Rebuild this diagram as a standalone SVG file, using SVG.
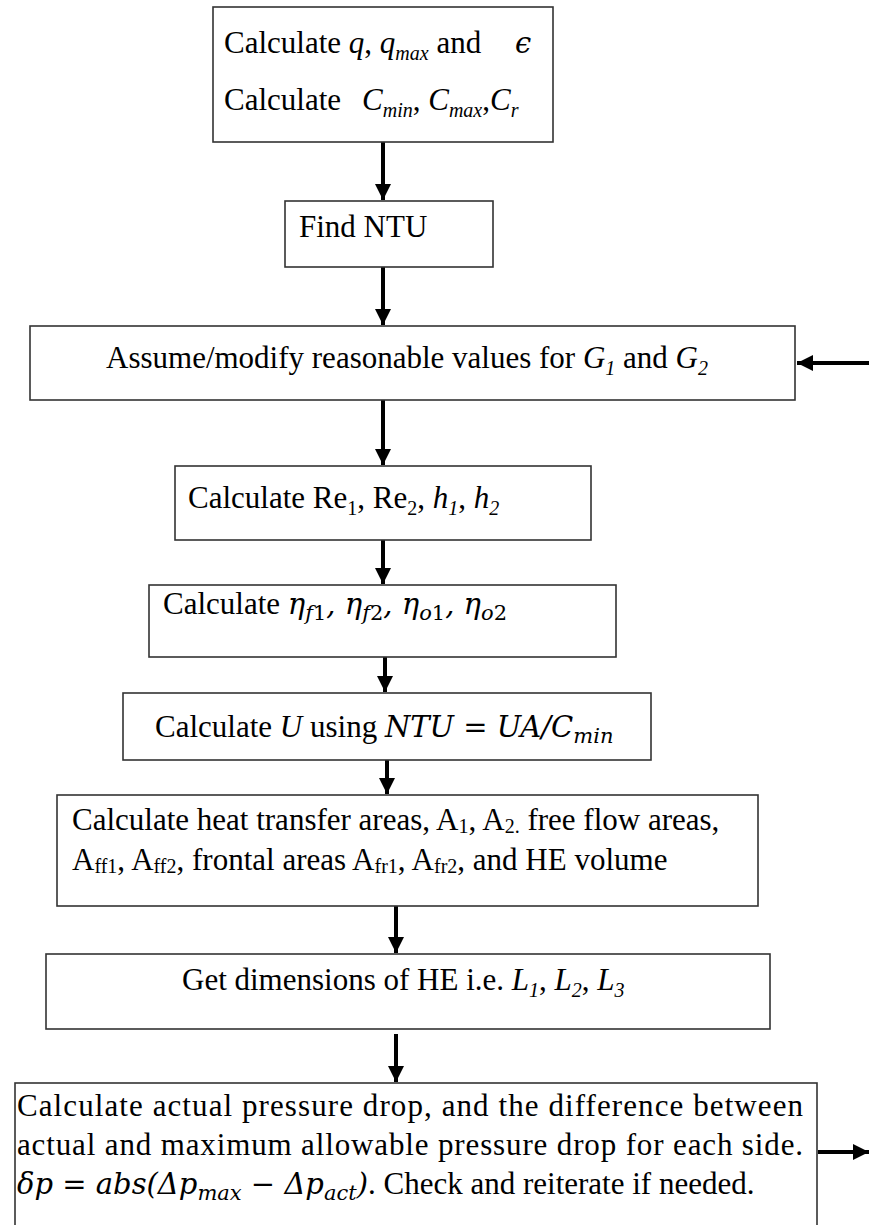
<svg xmlns="http://www.w3.org/2000/svg" width="869" height="1225" viewBox="0 0 869 1225">
<defs>
<style>
.box{fill:#fff;stroke:#333;stroke-width:1.6}
.t{font-family:"Liberation Serif","Times New Roman",serif;font-size:31px;fill:#000}
.i{font-style:italic}
.s{font-size:20px}
.m{font-family:"DejaVu Serif","Liberation Serif",serif;font-style:italic;font-size:29px}
.ms{font-family:"DejaVu Serif","Liberation Serif",serif;font-style:italic;font-size:21px}
.mu{font-family:"DejaVu Serif","Liberation Serif",serif;font-style:normal;font-size:21px}
.c{stroke:#000;stroke-width:4;fill:none}
</style>
<marker id="ah" viewBox="0 0 10 10" refX="10" refY="5" markerWidth="4" markerHeight="4" markerUnits="strokeWidth" orient="auto">
<path d="M0,0 L10,5 L0,10 z" fill="#000"/>
</marker>
</defs>

<g id="connectors">
<line class="c" x1="383" y1="142" x2="383" y2="200" marker-end="url(#ah)"/>
<line class="c" x1="383" y1="267" x2="383" y2="325" marker-end="url(#ah)"/>
<line class="c" x1="383" y1="400" x2="383" y2="465" marker-end="url(#ah)"/>
<line class="c" x1="383" y1="540" x2="383" y2="584" marker-end="url(#ah)"/>
<line class="c" x1="385" y1="657" x2="385" y2="692" marker-end="url(#ah)"/>
<line class="c" x1="387" y1="760" x2="387" y2="794" marker-end="url(#ah)"/>
<line class="c" x1="396" y1="906" x2="396" y2="953" marker-end="url(#ah)"/>
<line class="c" x1="396" y1="1034" x2="396" y2="1082" marker-end="url(#ah)"/>
<line class="c" x1="869" y1="363" x2="797" y2="363" marker-end="url(#ah)"/>
<line class="c" x1="818" y1="1152" x2="869" y2="1152" marker-end="url(#ah)"/>
</g>

<g id="n1">
<rect class="box" x="213" y="7" width="340" height="135"/>
<text class="t" x="224" y="53">Calculate <tspan class="i">q</tspan>, <tspan class="i">q</tspan><tspan class="i s" dy="7">max</tspan><tspan dy="-7"> and</tspan><tspan class="m" x="515">ϵ</tspan></text>
<text class="t" x="224" y="110">Calculate<tspan class="i" x="362">C</tspan><tspan class="i s" dy="7">min</tspan><tspan dy="-7">, </tspan><tspan class="i">C</tspan><tspan class="i s" dy="7">max</tspan><tspan dy="-7">,</tspan><tspan class="i">C</tspan><tspan class="i s" dy="7">r</tspan></text>
</g>

<g id="n2">
<rect class="box" x="285" y="201" width="208" height="66"/>
<text class="t" x="299" y="237">Find NTU</text>
</g>

<g id="n3">
<rect class="box" x="30" y="326" width="765" height="74"/>
<text class="t" x="106" y="368">Assume/modify reasonable values for <tspan class="i">G</tspan><tspan class="i s" dy="7">1</tspan><tspan dy="-7"> and </tspan><tspan class="i">G</tspan><tspan class="i s" dy="7">2</tspan></text>
</g>

<g id="n4">
<rect class="box" x="175" y="466" width="416" height="74"/>
<text class="t" x="188" y="508">Calculate Re<tspan class="s" dy="7">1</tspan><tspan dy="-7">, Re</tspan><tspan class="s" dy="7">2</tspan><tspan dy="-7">, </tspan><tspan class="i">h</tspan><tspan class="i s" dy="7">1</tspan><tspan dy="-7">, </tspan><tspan class="i">h</tspan><tspan class="i s" dy="7">2</tspan></text>
</g>

<g id="n5">
<rect class="box" x="149" y="585" width="467" height="72"/>
<text class="t" x="163" y="614">Calculate <tspan class="m">η</tspan><tspan class="ms" dy="6">f</tspan><tspan class="mu">1</tspan><tspan class="m" font-style="normal" dy="-6">, </tspan><tspan class="m">η</tspan><tspan class="ms" dy="6">f</tspan><tspan class="mu">2</tspan><tspan class="m" font-style="normal" dy="-6">,   </tspan><tspan class="m">η</tspan><tspan class="ms" dy="6">o</tspan><tspan class="mu">1</tspan><tspan class="m" font-style="normal" dy="-6">, </tspan><tspan class="m">η</tspan><tspan class="ms" dy="6">o</tspan><tspan class="mu">2</tspan></text>
</g>

<g id="n6">
<rect class="box" x="123" y="693" width="528" height="67"/>
<text class="t" x="155" y="737">Calculate <tspan class="i">U</tspan> using <tspan class="m">NTU</tspan><tspan class="m" font-style="normal"> = </tspan><tspan class="m">UA</tspan><tspan class="m" font-style="normal">/</tspan><tspan class="m">C</tspan><tspan class="ms" dy="6">min</tspan></text>
</g>

<g id="n7">
<rect class="box" x="57" y="795" width="701" height="111"/>
<text class="t" x="72" y="830">Calculate heat transfer areas, A<tspan class="s" dy="3">1</tspan><tspan dy="-3">, A</tspan><tspan class="s" dy="3">2.</tspan><tspan dy="-3"> free flow areas,</tspan></text>
<text class="t" x="72" y="870">A<tspan class="s" dy="3">ff1</tspan><tspan dy="-3">, A</tspan><tspan class="s" dy="3">ff2</tspan><tspan dy="-3">, frontal areas A</tspan><tspan class="s" dy="3">fr1</tspan><tspan dy="-3">, A</tspan><tspan class="s" dy="3">fr2</tspan><tspan dy="-3">, and HE volume</tspan></text>
</g>

<g id="n8">
<rect class="box" x="46" y="954" width="724" height="75"/>
<text class="t" x="182" y="990">Get dimensions of HE i.e. <tspan class="i">L</tspan><tspan class="i s" dy="7">1</tspan><tspan dy="-7">, </tspan><tspan class="i">L</tspan><tspan class="i s" dy="7">2</tspan><tspan dy="-7">, </tspan><tspan class="i">L</tspan><tspan class="i s" dy="7">3</tspan></text>
</g>

<g id="n9">
<rect class="box" x="15" y="1083" width="802" height="150"/>
<text class="t" x="17" y="1116" textLength="786" lengthAdjust="spacing">Calculate actual pressure drop, and the difference between</text>
<text class="t" x="17" y="1155" textLength="786" lengthAdjust="spacing">actual and maximum allowable pressure drop for each side.</text>
<text class="t" x="17" y="1194"><tspan class="m">δp</tspan><tspan class="m" font-style="normal"> = </tspan><tspan class="m">abs</tspan><tspan class="m" font-style="normal">(Δ</tspan><tspan class="m">p</tspan><tspan class="ms" dy="6">max</tspan><tspan class="m" font-style="normal" dy="-6"> − Δ</tspan><tspan class="m">p</tspan><tspan class="ms" dy="6">act</tspan><tspan class="m" font-style="normal" dy="-6">)</tspan>. Check and reiterate if needed.</text>
</g>
</svg>
